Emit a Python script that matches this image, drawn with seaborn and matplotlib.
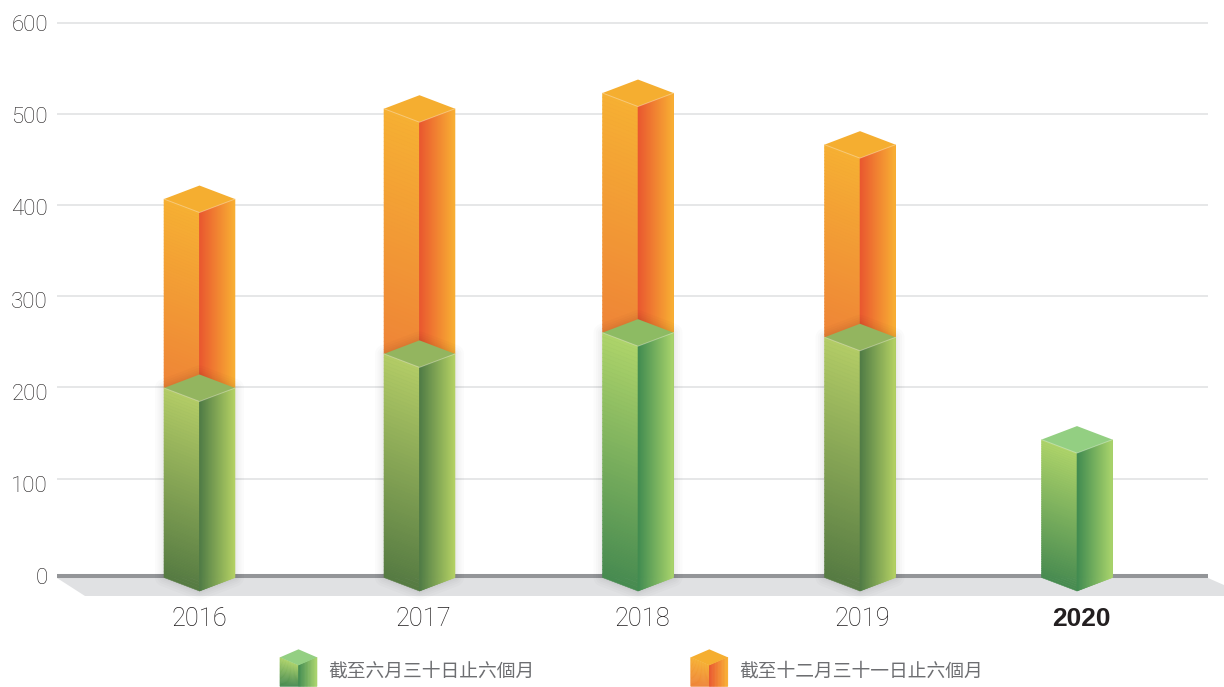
import numpy as np
import pandas as pd
import matplotlib
matplotlib.use("Agg")
import matplotlib.pyplot as plt
import seaborn as sns
from matplotlib.collections import PolyCollection
from matplotlib.colors import to_rgb
from matplotlib.legend_handler import HandlerBase
from matplotlib.patches import Patch, Polygon

# ---- data ----
years = ["2016", "2017", "2018", "2019", "2020"]
first_half = [204, 241, 264, 259, 148]
second_half = [205, 266, 260, 209]
legend_labels = ["截至六月三十日止六個月", "截至十二月三十一日止六個月"]
y_ticks = [0, 100, 200, 300, 400, 500, 600]

# ---- drawing styles ----
W, H = 1224, 687
AX_L, AX_R, AX_T, AX_B = 57, 1208, 23, 576
UNIT = 220.0                         # px per category
PX_Y = (AX_B - AX_T) / 600.0         # px per value unit
X0 = 199.0                           # px of the first category
BAR_W = 71 / UNIT
DEPTH = 13.5 / PX_Y                  # isometric drop in value units
BASE_DROP = 1.5 / PX_Y               # boxes start just under the axis line
bar_nudge_px = [0.5, 0.5, -1, 1, -2]
label_nudge_px = [0.5, 4, 3, 3, 2]
grid_nudge = [5.2, 5.0, 3.8, 2.5, 1.2, 0.0]

OLIVE = dict(lt="#b3cc66", lb="#557a42", rl="#4e7a45", rr="#b5d264", top="#93b55f")
BRIGHT = dict(lt="#aed46a", lb="#468a50", rl="#3f8a50", rr="#aad56c", top="#8dbb63")
LONE = dict(BRIGHT, top="#93cf82")
ORANGE = dict(lt="#f6b033", lb="#ee8437", rl="#e9562f", rr="#f9b033", top="#f5ae30")
green_styles = [OLIVE, OLIVE, BRIGHT, OLIVE, LONE]


def shade(corners, c0, c1, axis, n=60, **kw):
    """corners: a,b,c,d = top-left, top-right, bottom-right, bottom-left."""
    a, b, c, d = [np.asarray(p, float) for p in corners]
    c0, c1 = np.array(to_rgb(c0)), np.array(to_rgb(c1))
    polys, cols = [], []
    for i in range(n):
        t0, t1 = i / n, (i + 1) / n
        if axis == "v":
            polys.append([a + (d - a) * t0, b + (c - b) * t0, b + (c - b) * t1, a + (d - a) * t1])
        else:
            polys.append([a + (b - a) * t0, a + (b - a) * t1, d + (c - d) * t1, d + (c - d) * t0])
        cols.append(c0 + (c1 - c0) * (t0 + t1) / 2)
    return PolyCollection(polys, facecolors=cols, edgecolors=cols, linewidths=0.4, **kw)


sns.set_theme(style="white")
plt.rcParams["font.family"] = ["Roboto", "Liberation Sans", "DejaVu Sans"]
fig = plt.figure(figsize=(W / 100, H / 100), dpi=100)
ax = fig.add_axes([AX_L / W, 1 - AX_B / H, (AX_R - AX_L) / W, (AX_B - AX_T) / H])

# floor
floor_px = [(57, 578), (85, 596), (1249, 596), (1208, 578)]
ax.add_patch(Polygon([(x / W, 1 - y / H) for x, y in floor_px], closed=True, transform=fig.transFigure,
                     facecolor="#e0e1e3", edgecolor="none", clip_on=False, zorder=0.5))

# stacked bars through seaborn: the rectangles give each box's geometry
df1 = pd.DataFrame({"year": years, "value": first_half})
df2 = pd.DataFrame({"year": years[:4], "value": second_half})
sns.barplot(df1, x="year", y="value", order=years, width=BAR_W, color="#8fb860",
            saturation=1, errorbar=None, linewidth=0, ax=ax, zorder=3)
sns.barplot(df2, x="year", y="value", order=years, width=BAR_W, color="#f19a35",
            saturation=1, errorbar=None, linewidth=0, ax=ax, zorder=2,
            bottom=first_half[:4])
ax.set_xlim(-(X0 - AX_L) / UNIT, (AX_R - X0) / UNIT)
ax.set_ylim(0, 600)


def draw_box(rect, style, nudge, z, glow=False):
    xl = rect.get_x() + nudge / UNIT
    w = rect.get_width()
    rect.set_x(xl)
    xc, xr = xl + w / 2, xl + w
    y0, y1 = rect.get_y(), rect.get_y() + rect.get_height()
    if y0 == 0:
        y0 = -BASE_DROP
    if glow:
        outline = [(xl, y1), (xc, y1 + DEPTH), (xr, y1), (xr, y0), (xc, y0 - DEPTH), (xl, y0)]
        for lw in (13, 9.5, 6.5, 4, 2):
            ax.add_patch(Polygon(outline, closed=True, facecolor="none", edgecolor="#000000",
                                 linewidth=lw, alpha=0.015, zorder=z - 0.2, clip_on=False,
                                 joinstyle="round"))
    left = [(xl, y1), (xc, y1 - DEPTH), (xc, y0 - DEPTH), (xl, y0)]
    right = [(xc, y1 - DEPTH), (xr, y1), (xr, y0), (xc, y0 - DEPTH)]
    ax.add_collection(shade(left, style["lt"], style["lb"], "v", zorder=z, clip_on=False), autolim=False)
    ax.add_collection(shade(right, style["rl"], style["rr"], "h", zorder=z, clip_on=False), autolim=False)
    ax.add_patch(Polygon([(xl, y1), (xc, y1 + DEPTH), (xr, y1), (xc, y1 - DEPTH)], closed=True,
                         facecolor=style["top"], edgecolor="none", zorder=z + 0.1, clip_on=False))
    ax.plot([xl, xc, xr], [y1, y1 - DEPTH, y1], color="white", alpha=0.35, lw=0.7,
            zorder=z + 0.2, clip_on=False)


for rect, nudge in zip(ax.containers[1], bar_nudge_px):
    draw_box(rect, ORANGE, nudge, 4)
for i, (rect, nudge, st) in enumerate(zip(ax.containers[0], bar_nudge_px, green_styles)):
    draw_box(rect, st, nudge, 6, glow=i < 4)

# gridlines sit slightly off the tick labels in the reference
grid_levels = [t + d for t, d in zip(y_ticks[1:], grid_nudge)]
ax.hlines(grid_levels, *ax.get_xlim(), color="#dfe0e1", lw=1.1, zorder=1, clip_on=False)

sns.despine(ax=ax, left=True, top=True, right=True)
ax.spines["bottom"].set_color("#939598")
ax.spines["bottom"].set_linewidth(2.9)
ax.spines["bottom"].set_zorder(1.5)
ax.spines["bottom"].set_capstyle("butt")
ax.set_xlabel("")
ax.set_ylabel("")
ax.set_yticks(y_ticks)
ax.tick_params(axis="y", length=0, pad=6.5, labelsize=16, labelcolor="#1f1c1d")
ax.set_xticks([i + d / UNIT for i, d in enumerate(label_nudge_px)], years)
ax.tick_params(axis="x", length=0, pad=22.5, labelsize=18.3, labelcolor="#1f1c1d")
for lab in ax.get_xticklabels() + ax.get_yticklabels():
    lab.set_fontweight("light")
last = ax.get_xticklabels()[-1]
last.set_fontfamily(["Liberation Sans", "DejaVu Sans"])
last.set_fontweight("bold")
last.set_fontsize(19)
last.set_color("#231f20")


class HandlerCube(HandlerBase):
    def __init__(self, style):
        super().__init__()
        self.style = style

    def create_artists(self, legend, orig_handle, xdescent, ydescent, width, height, fontsize, trans):
        s = 0.72
        st = self.style
        ox, oy = -xdescent, -ydescent - 5.3
        pt = lambda x, y: (ox + x * s, oy + y * s)
        left = [pt(0, 29), pt(18.5, 21), pt(18.5, 0), pt(0, 0)]
        right = [pt(18.5, 21), pt(37, 29), pt(37, 0), pt(18.5, 0)]
        top = [pt(0, 29), pt(18.5, 37), pt(37, 29), pt(18.5, 21)]
        out = [shade(left, st["lt"], st["lb"], "v", n=24, transform=trans),
               shade(right, st["rl"], st["rr"], "h", n=24, transform=trans),
               Polygon(top, closed=True, facecolor=st["top"], edgecolor="none", transform=trans)]
        return out


h1, h2 = Patch(label=legend_labels[0]), Patch(label=legend_labels[1])
fig.legend(handles=[h1, h2], labels=legend_labels, frameon=False, ncol=2,
           loc="lower left", bbox_to_anchor=(280 / W, 5 / H), borderpad=0, borderaxespad=0,
           handlelength=1.96, handleheight=1.0, handletextpad=0.6, columnspacing=8.35,
           prop={"family": ["Noto Sans CJK TC", "DejaVu Sans"], "size": 13.5},
           labelcolor="#6d6e71",
           handler_map={h1: HandlerCube(LONE), h2: HandlerCube(ORANGE)})

fig.savefig("out.png", dpi=100)
